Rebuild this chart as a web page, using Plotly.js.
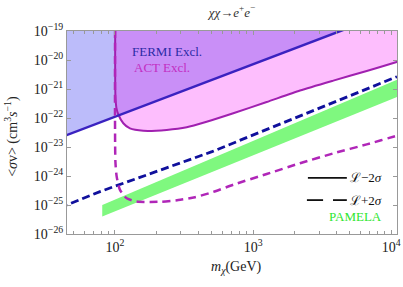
<!DOCTYPE html>
<html><head><meta charset="utf-8">
<script src="https://cdn.plot.ly/plotly-3.0.1.min.js"></script>
<style>html,body{margin:0;padding:0;background:#fff}#chart{width:403px;height:287px}</style>
</head><body><div id="chart"></div>
<script>
// axis ranges (data units)
const X_RANGE = [45, 11000];
const Y_RANGE = [1e-26, 1e-19];
const X_TICKS = [100, 1000, 10000];
const X_TICK_TEXT = ["10<sup>2</sup>", "10<sup>3</sup>", "10<sup>4</sup>"];
const X_MINOR = [50,60,70,80,90,200,300,400,500,600,700,800,900,2000,3000,4000,5000,6000,7000,8000,9000];
const Y_TICKS = [1e-26,1e-25,1e-24,1e-23,1e-22,1e-21,1e-20,1e-19];
const Y_TICK_TEXT = ["10<sup>−26</sup>","10<sup>−25</sup>","10<sup>−24</sup>","10<sup>−23</sup>","10<sup>−22</sup>","10<sup>−21</sup>","10<sup>−20</sup>","10<sup>−19</sup>"];

// FERMI exclusion (L-2σ, solid) and L+2σ (dashed)
const fermiMass = [40, 100, 1000, 5000];
const fermiSigma = [2.09e-23, 1.10e-22, 7.1e-21, 1.32e-19];
const fermiPlusMass = [40, 78, 504, 11000];
const fermiPlusSigma = [8.1e-26, 2.9e-25, 6.9e-24, 2.66e-21];

// ACT exclusion (L-2σ, solid) and L+2σ (dashed)
const actMass = [100.5, 100.8, 102.5, 105.8, 115, 128.5, 160.5, 237, 331, 461, 719, 1254, 2185, 3806, 6641, 10944, 11500];
const actSigma = [3.16e-19, 6.3e-22, 2.24e-22, 1.32e-22, 6.6e-23, 4.37e-23, 3.63e-23, 3.89e-23, 4.79e-23, 7.41e-23, 1.45e-22, 3.55e-22, 8.9e-22, 1.95e-21, 4.17e-21, 8.5e-21, 9.1e-21];
const actPlusMass = [100.3, 100.8, 103, 108.8, 121.7, 143.8, 179.5, 218, 287.5, 380, 515, 719, 1254, 2185, 3806, 6641, 10944, 11500];
const actPlusSigma = [3.16e-19, 3.16e-24, 9.55e-25, 3.31e-25, 1.70e-25, 1.32e-25, 1.27e-25, 1.30e-25, 1.48e-25, 1.86e-25, 2.82e-25, 5.01e-25, 1.17e-24, 2.75e-24, 6.03e-24, 1.23e-23, 2.45e-23, 2.6e-23];

// PAMELA band
const pamelaMass = [81, 11000];
const pamelaHigh = [1.0e-25, 2.07e-21];
const pamelaLow = [3.98e-26, 5.3e-22];

const Y_EXT = Y_RANGE[1] * 10;

function fermiAt(m) {
  const lx = Math.log10(m);
  for (let i = 0; i < fermiMass.length - 1; i++) {
    const a = Math.log10(fermiMass[i]), b = Math.log10(fermiMass[i+1]);
    if (lx <= b || i === fermiMass.length - 2) {
      const t = (lx - a) / (b - a);
      return Math.log10(fermiSigma[i]) + t * (Math.log10(fermiSigma[i+1]) - Math.log10(fermiSigma[i]));
    }
  }
}

// overlap polygon: above both ACT curve and FERMI line
const ovX = [], ovY = [];
let crossM = null;
for (let i = 0; i < actMass.length; i++) {
  const d = Math.log10(actSigma[i]) - fermiAt(actMass[i]);
  if (d >= 0) { ovX.push(actMass[i]); ovY.push(actSigma[i]); }
  else {
    const dp = Math.log10(actSigma[i-1]) - fermiAt(actMass[i-1]);
    const t = dp / (dp - d);
    const lm = Math.log10(actMass[i-1]) + t * (Math.log10(actMass[i]) - Math.log10(actMass[i-1]));
    crossM = Math.pow(10, lm);
    ovX.push(crossM); ovY.push(Math.pow(10, fermiAt(crossM)));
    break;
  }
}
for (let i = 0; i < fermiMass.length; i++) {
  if (fermiMass[i] > crossM) { ovX.push(fermiMass[i]); ovY.push(fermiSigma[i]); }
}
ovX.push(fermiMass[fermiMass.length-1], actMass[0]);
ovY.push(Y_EXT, Y_EXT);

const polyFill = (xs, ys, color) => ({
  x: xs, y: ys, type: 'scatter', mode: 'lines', fill: 'toself',
  fillcolor: color, line: {width: 0}, hoverinfo: 'skip', showlegend: false
});

const traces = [
  polyFill(fermiMass.concat([fermiMass[fermiMass.length-1], fermiMass[0]]),
           fermiSigma.concat([Y_EXT, Y_EXT]), '#bcbcfa'),
  polyFill(actMass.concat([actMass[actMass.length-1], actMass[0]]),
           actSigma.concat([Y_EXT, Y_EXT]), '#fdbefd'),
  polyFill(ovX, ovY, '#c98ff7'),
  polyFill(pamelaMass.concat(pamelaMass.slice().reverse()),
           pamelaHigh.concat(pamelaLow.slice().reverse()), '#7ff87f'),
  {x: actMass, y: actSigma, type: 'scatter', mode: 'lines', line: {color: '#a020b0', width: 2, shape: 'spline', smoothing: 0.6}, hoverinfo: 'skip', showlegend: false},
  {x: fermiMass, y: fermiSigma, type: 'scatter', mode: 'lines', line: {color: '#3a22c0', width: 2.5}, hoverinfo: 'skip', showlegend: false},
  {x: fermiPlusMass, y: fermiPlusSigma, type: 'scatter', mode: 'lines', line: {color: '#10109c', width: 2.8, dash: '8px,4px'}, hoverinfo: 'skip', showlegend: false},
  {x: actPlusMass, y: actPlusSigma, type: 'scatter', mode: 'lines', line: {color: '#b026b8', width: 2.5, dash: '8px,5px', shape: 'spline', smoothing: 0.6}, hoverinfo: 'skip', showlegend: false}
];

const serif = '"Liberation Serif", "Times New Roman", serif';
const axisCommon = {
  type: 'log', showline: true, linecolor: '#999', linewidth: 1, mirror: 'ticks',
  ticks: 'inside', tickcolor: '#999', showgrid: false, zeroline: false,
  tickfont: {family: serif, size: 14, color: '#222'}, tickmode: 'array'
};

const layout = {
  width: 403, height: 287,
  margin: {l: 67, r: 6, t: 31, b: 53},
  paper_bgcolor: '#fff', plot_bgcolor: '#fff',
  font: {family: serif},
  title: {text: '<i>χχ</i>→<i>e</i><sup>+</sup><i>e</i><sup>−</sup>', font: {family: serif, size: 13, color: '#333'},
          xref: 'paper', x: 0.5, xanchor: 'center', y: 0.958, yanchor: 'middle'},
  xaxis: Object.assign({}, axisCommon, {
    range: [Math.log10(X_RANGE[0]), Math.log10(X_RANGE[1])],
    tickvals: X_TICKS, ticktext: X_TICK_TEXT, ticklen: 4,
    minor: {tickmode: 'array', tickvals: X_MINOR, ticks: 'inside', ticklen: 3, tickcolor: '#999'}
  }),
  yaxis: Object.assign({}, axisCommon, {
    range: [Math.log10(Y_RANGE[0]), Math.log10(Y_RANGE[1])],
    tickvals: Y_TICKS, ticktext: Y_TICK_TEXT, ticklen: 4
  }),
  shapes: [
    {type: 'line', xref: 'paper', yref: 'paper', x0: 0.730, x1: 0.848, y0: 0.276, y1: 0.276, line: {color: '#111', width: 1.8}},
    {type: 'line', xref: 'paper', yref: 'paper', x0: 0.727, x1: 0.776, y0: 0.167, y1: 0.167, line: {color: '#111', width: 1.8}},
    {type: 'line', xref: 'paper', yref: 'paper', x0: 0.806, x1: 0.848, y0: 0.167, y1: 0.167, line: {color: '#111', width: 1.8}}
  ],
  annotations: [
    {text: 'FERMI Excl.', xref: 'paper', yref: 'paper', x: 0.191, y: 0.897, xanchor: 'left', yanchor: 'middle', showarrow: false, font: {family: serif, size: 13, color: '#2b2ba6'}},
    {text: 'ACT Excl.', xref: 'paper', yref: 'paper', x: 0.197, y: 0.818, xanchor: 'left', yanchor: 'middle', showarrow: false, font: {family: serif, size: 13, color: '#c22ec2'}},
    {text: 'ℒ−2<i>σ</i>', xref: 'paper', yref: 'paper', x: 0.850, y: 0.276, xanchor: 'left', yanchor: 'middle', showarrow: false, font: {family: serif, size: 13, color: '#111'}},
    {text: 'ℒ+2<i>σ</i>', xref: 'paper', yref: 'paper', x: 0.850, y: 0.167, xanchor: 'left', yanchor: 'middle', showarrow: false, font: {family: serif, size: 13, color: '#111'}},
    {text: 'PAMELA', xref: 'paper', yref: 'paper', x: 0.873, y: 0.084, xanchor: 'center', yanchor: 'middle', showarrow: false, font: {family: serif, size: 13, color: '#2ee62e'}},
    {text: '&lt;<i>σ</i>v&gt; (cm<sup>3</sup><i>s</i><sup>−1</sup>)', xref: 'paper', yref: 'paper', x: -0.167, y: 0.483, xanchor: 'center', yanchor: 'middle', textangle: -90, showarrow: false, font: {family: serif, size: 14, color: '#222'}},
    {text: '<i>m</i><sub><i>χ</i></sub>(GeV)', xref: 'paper', yref: 'paper', x: 0.515, y: -0.167, xanchor: 'center', yanchor: 'middle', showarrow: false, font: {family: serif, size: 14, color: '#222'}}
  ]
};

Plotly.newPlot('chart', traces, layout, {staticPlot: true, displayModeBar: false});
</script>
</body></html>
